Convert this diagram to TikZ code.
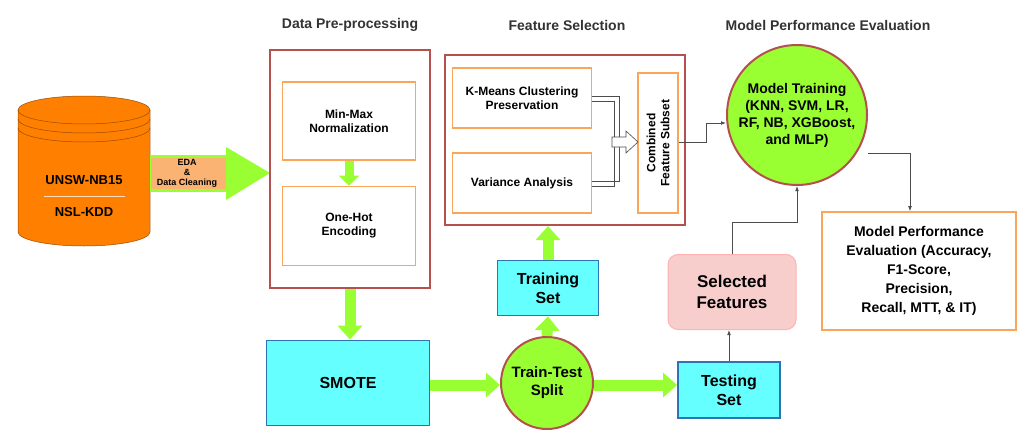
\documentclass[tikz,border=0pt]{standalone}
\usepackage{fontspec}
\setmainfont{Liberation Sans}
\usetikzlibrary{arrows.meta}
\definecolor{brd}{HTML}{B5504E}
\definecolor{org}{HTML}{F9A65A}
\definecolor{cyn}{HTML}{66FFFF}
\definecolor{blu}{HTML}{2E74B5}
\definecolor{grn}{HTML}{99FF33}
\definecolor{dor}{HTML}{FF7F00}
\definecolor{pnk}{HTML}{F8CECC}
\tikzset{
 bigbox/.style={draw=brd,line width=2.2pt},
 obox/.style={draw=org,line width=1.6pt,fill=white,align=center,font=\bfseries\fontsize{12}{14}\selectfont},
 cbox/.style={draw=blu,line width=1.8pt,fill=cyn,align=center,font=\bfseries\fontsize{16}{19}\selectfont},
 gcirc/.style={circle,draw=brd,line width=2pt,fill=grn,align=center,font=\bfseries},
 title/.style={font=\bfseries\fontsize{14}{16}\selectfont,text=black!80},
 garrow/.style={draw=grn,line width=11pt,-{Triangle[length=14pt,width=24pt]}},
 thin/.style={draw=black!70,line width=0.8pt},
}
\begin{document}
\begin{tikzpicture}[x=1pt,y=-1pt]
\useasboundingbox[fill=white] (0,0) rectangle (1030,444);
% titles
\node[title] (t1) at (350,25) {Data Pre-processing};
\node[title] (t2) at (567,25) {Feature Selection};
\node[title] (t3) at (828,25) {Model Performance Evaluation};
% cylinder
\fill[dor] (18,110) rectangle (150,232);
\fill[dor] (84,232) ellipse[x radius=66,y radius=14];
\draw[fill=dor,draw=dor!60!black,line width=0.5pt] (84,110) ellipse[x radius=66,y radius=14];
\draw[dor!60!black,line width=0.5pt] (18,110)--(18,232) arc[start angle=180,end angle=0,x radius=66,y radius=14]--(150,110);
\draw[dor!60!black,line width=0.5pt] (18,119) arc[start angle=180,end angle=0,x radius=66,y radius=14];
\draw[dor!60!black,line width=0.5pt] (18,128) arc[start angle=180,end angle=0,x radius=66,y radius=14];
\node[font=\bfseries\fontsize{13}{15}\selectfont] (u) at (84,180) {UNSW-NB15};
\draw[white!75!dor,line width=1pt] (44,196)--(125,196);
\node[font=\bfseries\fontsize{13}{15}\selectfont] (n) at (84,212) {NSL-KDD};
% EDA arrow
\fill[grn] (150,155) rectangle (228,192);
\fill[org!85] (151,158) rectangle (228,189);
\fill[grn] (226,147)--(270,173)--(226,200)--cycle;
\node[font=\bfseries\fontsize{9}{10}\selectfont,align=center,inner sep=0pt] (eda) at (187,173) {EDA\\\&\\Data Cleaning};
% pre-processing
\node[bigbox,minimum width=160pt,minimum height=238pt] (pp) at (350,169) {};
\node[obox,minimum width=133pt,minimum height=78pt] (mm) at (349,121) {Min-Max\\Normalization};
\node[obox,minimum width=133pt,minimum height=79pt] (oh) at (349,226) {One-Hot\\Encoding};
\draw[draw=grn,line width=9pt,-{Triangle[length=10pt,width=20pt]}] (mm.south) -- (oh.north);
% SMOTE
\node[cbox,minimum width=163pt,minimum height=85pt] (sm) at (348,383) {SMOTE};
\draw[garrow] (pp.south) -- (pp.south|-sm.north);
\node[gcirc,minimum size=92pt,font=\bfseries\fontsize{15}{18}\selectfont] (tt) at (547,383) {Train-Test\\Split};
\draw[garrow] (sm.east|-0,385) -- (tt.west|-0,385);
\node[cbox,minimum width=102pt,minimum height=56pt] (ts) at (729,390) {Testing\\Set};
\draw[garrow] (tt.east|-0,385) -- (ts.west|-0,385);
\node[cbox,minimum width=101pt,minimum height=55pt] (tr) at (548,288) {Training\\Set};
\draw[garrow] (tt.north) -- (tr.south);
% feature selection
\node[bigbox,minimum width=240pt,minimum height=170pt] (fs) at (565,140) {};
\draw[garrow] (tr.north) -- (fs.south-|tr.north);
\node[obox,minimum width=139pt,minimum height=60pt] (km) at (522,98) {K-Means Clustering\\Preservation};
\node[obox,minimum width=139pt,minimum height=60pt] (va) at (522,183) {Variance Analysis};
\node[obox,minimum width=40pt,minimum height=140pt] (cf) at (658,143) {};
\node[rotate=90,align=center,font=\bfseries\fontsize{12}{14}\selectfont] (cft) at (cf.center) {Combined\\Feature Subset};
\draw[black!70,line width=0.6pt] (km.east|-0,96)--(619,96)--(619,137);
\draw[black!70,line width=0.6pt] (km.east|-0,101)--(614,101)--(614,137);
\draw[black!70,line width=0.6pt] (va.east|-0,181)--(619,181)--(619,147);
\draw[black!70,line width=0.6pt] (va.east|-0,186)--(614,186)--(614,147);
\draw[black!70,line width=0.6pt,fill=white] (612,137)--(626,137)--(626,131)--(638,142)--(626,153)--(626,147)--(612,147)--cycle;
% model training
\node[gcirc,minimum size=140pt,font=\bfseries\fontsize{14}{17}\selectfont,inner sep=0pt] (mt) at (797,115) {Model Training\\(KNN, SVM, LR,\\RF, NB, XGBoost,\\and MLP)};
\draw[thin,-{Latex[length=5pt]}] (cf.east|-0,142)--(706,142)--(706,123)--(mt.west|-0,123);
\node[obox,minimum width=194pt,minimum height=118pt,font=\bfseries\fontsize{14}{19}\selectfont] (ev) at (919,271) {Model Performance\\Evaluation (Accuracy,\\F1-Score,\\Precision,\\Recall, MTT, \& IT)};
\draw[thin,-{Latex[length=5pt]}] (mt.east|-0,153)--(910,153)--(ev.north-|910,0);
\node[draw=red!30,line width=1pt,fill=pnk,rounded corners=10pt,minimum width=128pt,minimum height=75pt,align=center,font=\bfseries\fontsize{17}{21}\selectfont] (sf) at (732,292) {Selected\\Features};
\draw[thin,-{Latex[length=5pt]}] (ts.north)--(sf.south-|ts.north);
\draw[thin,-{Latex[length=5pt]}] (sf.north)--(732,222)--(797,222)--(mt.south);
\end{tikzpicture}
\end{document}
